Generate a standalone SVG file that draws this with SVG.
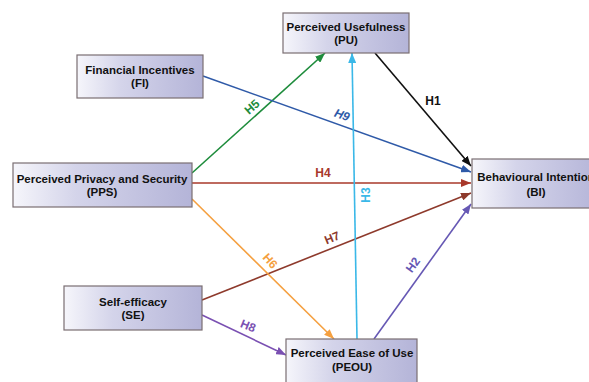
<svg xmlns="http://www.w3.org/2000/svg" width="589" height="382" viewBox="0 0 589 382">
<style>
.box{fill:url(#g);stroke:#7a6e72;stroke-width:1.2}
.t{font-family:"Liberation Sans",Arial,sans-serif;font-weight:bold;font-size:11.5px;fill:#111;text-anchor:middle}
.l{font-family:"Liberation Sans",Arial,sans-serif;font-weight:bold;font-size:12px;text-anchor:middle}
.c{fill:none;stroke-width:1.6}
</style>
<defs>
<linearGradient id="g" x1="0" y1="0" x2="1" y2="0">
<stop offset="0" stop-color="#f6f6fb"/>
<stop offset="0.35" stop-color="#d4d4ea"/>
<stop offset="1" stop-color="#b4b4d8"/>
</linearGradient>
<marker id="aG" viewBox="0 0 10 8" refX="10" refY="4" markerWidth="10" markerHeight="8" markerUnits="userSpaceOnUse" orient="auto"><path d="M0,0L10,4L0,8Z" fill="#1e8c3c"/></marker>
<marker id="aB" viewBox="0 0 10 8" refX="10" refY="4" markerWidth="10" markerHeight="8" markerUnits="userSpaceOnUse" orient="auto"><path d="M0,0L10,4L0,8Z" fill="#2f5aa8"/></marker>
<marker id="aK" viewBox="0 0 10 8" refX="10" refY="4" markerWidth="10" markerHeight="8" markerUnits="userSpaceOnUse" orient="auto"><path d="M0,0L10,4L0,8Z" fill="#111"/></marker>
<marker id="aR" viewBox="0 0 10 8" refX="10" refY="4" markerWidth="10" markerHeight="8" markerUnits="userSpaceOnUse" orient="auto"><path d="M0,0L10,4L0,8Z" fill="#a8382a"/></marker>
<marker id="aM" viewBox="0 0 10 8" refX="10" refY="4" markerWidth="10" markerHeight="8" markerUnits="userSpaceOnUse" orient="auto"><path d="M0,0L10,4L0,8Z" fill="#8e3a2c"/></marker>
<marker id="aP" viewBox="0 0 10 8" refX="10" refY="4" markerWidth="10" markerHeight="8" markerUnits="userSpaceOnUse" orient="auto"><path d="M0,0L10,4L0,8Z" fill="#6658b4"/></marker>
<marker id="aV" viewBox="0 0 10 8" refX="10" refY="4" markerWidth="10" markerHeight="8" markerUnits="userSpaceOnUse" orient="auto"><path d="M0,0L10,4L0,8Z" fill="#7a50b2"/></marker>
<marker id="aC" viewBox="0 0 10 8" refX="10" refY="4" markerWidth="10" markerHeight="8" markerUnits="userSpaceOnUse" orient="auto"><path d="M0,0L10,4L0,8Z" fill="#3ab8e8"/></marker>
<marker id="aO" viewBox="0 0 10 8" refX="10" refY="4" markerWidth="10" markerHeight="8" markerUnits="userSpaceOnUse" orient="auto"><path d="M0,0L10,4L0,8Z" fill="#f5a040"/></marker>
</defs>
<rect width="589" height="382" fill="#fff"/>
<g id="connectors">
<line class="c" x1="192" y1="173" x2="325" y2="53" stroke="#1e8c3c" marker-end="url(#aG)"/>
<line class="c" x1="203" y1="76" x2="471" y2="172" stroke="#2f5aa8" marker-end="url(#aB)"/>
<line class="c" x1="375" y1="53" x2="471" y2="166" stroke="#111" marker-end="url(#aK)"/>
<line class="c" x1="192" y1="183" x2="471" y2="183" stroke="#a8382a" marker-end="url(#aR)"/>
<line class="c" x1="202" y1="300" x2="471" y2="193" stroke="#8e3a2c" marker-end="url(#aM)"/>
<line class="c" x1="374" y1="339" x2="471" y2="204" stroke="#6658b4" marker-end="url(#aP)"/>
<line class="c" x1="357" y1="339" x2="352" y2="53" stroke="#3ab8e8" marker-end="url(#aC)"/>
<line class="c" x1="192" y1="199" x2="334" y2="339" stroke="#f5a040" marker-end="url(#aO)"/>
<line class="c" x1="202" y1="315" x2="286" y2="355" stroke="#7a50b2" marker-end="url(#aV)"/>
<text class="l" fill="#1e8c3c" transform="translate(252,107) rotate(-42)" y="4">H5</text>
<text class="l" fill="#2f5aa8" transform="translate(342,115) rotate(20)" y="4" font-style="italic">H9</text>
<text class="l" fill="#111" x="433" y="105">H1</text>
<text class="l" fill="#a8382a" x="323" y="177">H4</text>
<text class="l" fill="#3ab8e8" transform="translate(366,195) rotate(-90)" y="4">H3</text>
<text class="l" fill="#f5a040" transform="translate(270,261) rotate(48)" y="4">H6</text>
<text class="l" fill="#8e3a2c" transform="translate(332,238) rotate(-22)" y="4">H7</text>
<text class="l" fill="#6658b4" transform="translate(413,265) rotate(-54)" y="4">H2</text>
<text class="l" fill="#7a50b2" transform="translate(248,326) rotate(22)" y="4">H8</text>
</g>
<g id="PU"><rect class="box" x="283" y="13" width="126" height="40"/><text class="t" x="346" y="31">Perceived Usefulness</text><text class="t" x="346" y="44">(PU)</text></g>
<g id="FI"><rect class="box" x="77" y="55" width="126" height="43"/><text class="t" x="140" y="74">Financial Incentives</text><text class="t" x="140" y="87">(FI)</text></g>
<g id="PPS"><rect class="box" x="13" y="163" width="179" height="44"/><text class="t" x="102" y="183">Perceived Privacy and Security</text><text class="t" x="102" y="196">(PPS)</text></g>
<g id="BI"><rect class="box" x="472" y="159" width="128" height="49"/><text class="t" x="536" y="181">Behavioural Intention</text><text class="t" x="536" y="196">(BI)</text></g>
<g id="SE"><rect class="box" x="64" y="286" width="138" height="44"/><text class="t" x="133" y="306">Self-efficacy</text><text class="t" x="133" y="319">(SE)</text></g>
<g id="PEOU"><rect class="box" x="286" y="339" width="131" height="46"/><text class="t" x="352" y="357">Perceived Ease of Use</text><text class="t" x="352" y="371">(PEOU)</text></g>
</svg>
